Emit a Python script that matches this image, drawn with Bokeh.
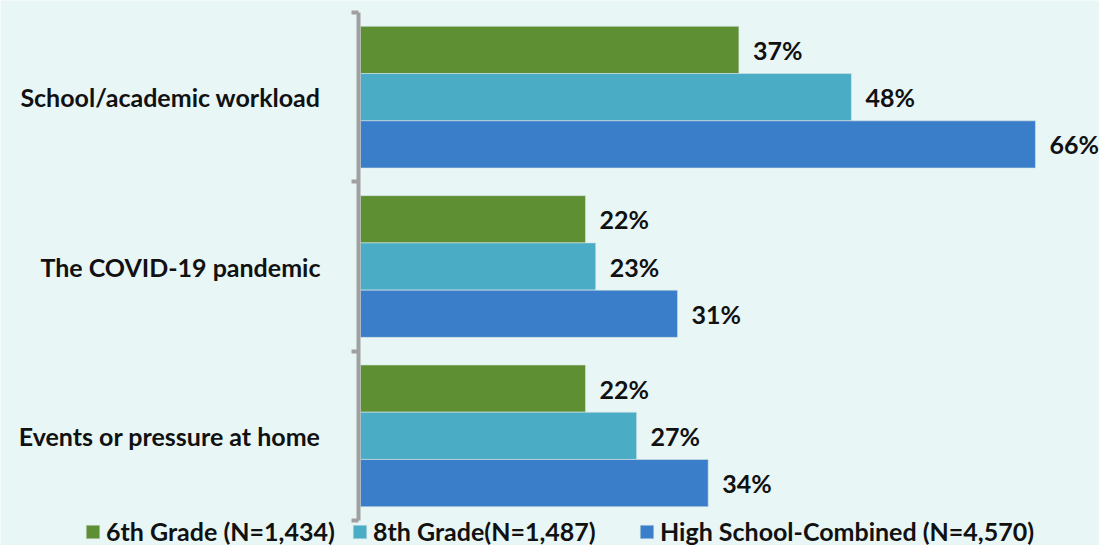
from bokeh.plotting import figure
from bokeh.models import FixedTicker, Legend, LegendItem, ColumnDataSource, Range1d
from bokeh.embed import file_html
from bokeh.resources import INLINE
from bokeh.core.properties import value

categories = ["School/academic workload", "The COVID-19 pandemic", "Events or pressure at home"]
series = ["6th Grade (N=1,434)", "8th Grade(N=1,487)", "High School-Combined (N=4,570)"]
grade6 = [37, 22, 22]
grade8 = [48, 23, 27]
high_school = [66, 31, 34]
colors = ["#5E8F32", "#4BACC6", "#3A7DC8"]

BG = "#E8F6F6"
TXT = "#111111"
FONT = "Lato"
FS = "25px"

n = len(categories)
centers = [n - i - 0.5 for i in range(n)]
bar_h = 0.279
offsets = [bar_h, 0.0, -bar_h]

AXIS_X = -0.1956
p = figure(width=1099, height=545, output_backend="svg", toolbar_location=None,
           x_range=Range1d(-35.2, 72.26), y_range=Range1d(-0.1476, n + 0.0709),
           min_border_left=0, min_border_right=0, min_border_top=0, min_border_bottom=0)
p.background_fill_color = BG
p.border_fill_color = BG
p.outline_line_color = None
p.xgrid.visible = False
p.ygrid.visible = False
p.xaxis.visible = False

renderers = []
for vals, col, off in zip([grade6, grade8, high_school], colors, offsets):
    src = ColumnDataSource(dict(y=[c + off for c in centers], right=vals,
                                lab=[f"{v}%" for v in vals]))
    r = p.hbar(y="y", left=0, right="right", height=bar_h, source=src,
               fill_color=col, line_color="#D8E4E4", line_width=0.6)
    renderers.append(r)
    p.text(x="right", y="y", text="lab", source=src, x_offset=14,
           text_baseline="middle", text_align="left", text_font=value(FONT),
           text_font_style="bold", text_font_size=FS, text_color=TXT)

ax = p.yaxis[0]
ax.fixed_location = AXIS_X
ax.bounds = (0, n)
ax.ticker = FixedTicker(ticks=centers, minor_ticks=[float(i) for i in range(n + 1)])
ax.major_label_overrides = {c: cat for c, cat in zip(centers, categories)}
ax.major_tick_line_color = None
ax.major_tick_out = 0
ax.major_tick_in = 0
ax.minor_tick_line_color = "#A0A0A0"
ax.minor_tick_line_width = 4
ax.minor_tick_out = 7
ax.minor_tick_in = 0
ax.axis_line_color = "#A0A0A0"
ax.axis_line_width = 4
ax.major_label_standoff = 31
ax.major_label_text_font = FONT
ax.major_label_text_font_style = "bold"
ax.major_label_text_font_size = FS
ax.major_label_text_color = TXT

legend_x = [84, 351, 638]
for r, lab, lx in zip(renderers, series, legend_x):
    lg = Legend(items=[LegendItem(label=lab, renderers=[r])], location=(lx, -1),
                orientation="horizontal", padding=0, margin=0, spacing=0,
                glyph_width=17, glyph_height=17, label_standoff=5, label_height=17,
                label_text_font=FONT, label_text_font_style="bold",
                label_text_font_size=FS, label_text_color=TXT, label_text_line_height=1.0,
                background_fill_alpha=0, border_line_color=None)
    p.add_layout(lg, "center")

open("out.html", "w").write(file_html(p, INLINE))
